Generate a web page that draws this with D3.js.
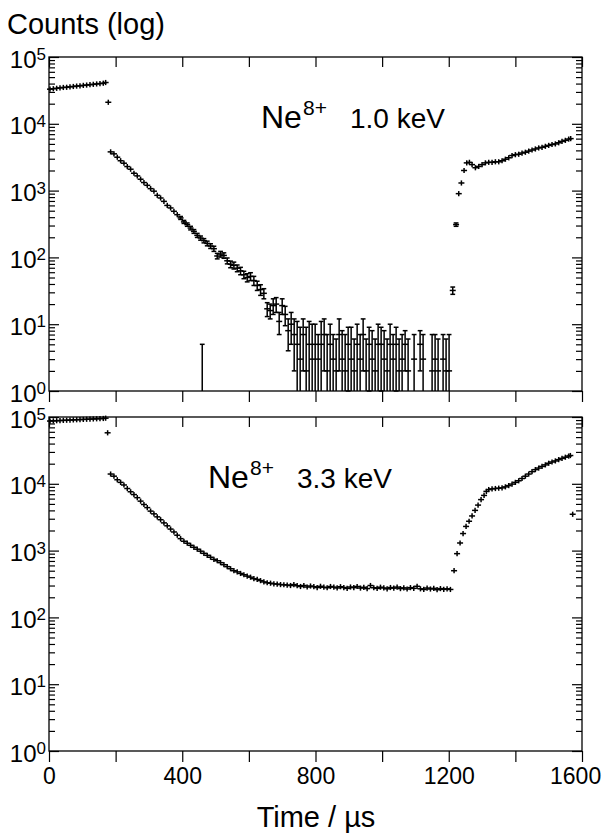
<!DOCTYPE html>
<html>
<head>
<meta charset="utf-8">
<script src="https://cdn.jsdelivr.net/npm/d3@7"></script>
<style>
  body { margin: 0; background: #fff; }
  svg text { font-family: "Liberation Sans", Arial, Helvetica, sans-serif; fill: #000; }
</style>
</head>
<body>
<svg id="chart" width="604" height="834"></svg>
<script>
// Ne8+ trap counts, two energies, log scale

const xTicks = [0, 200, 400, 600, 800, 1000, 1200, 1400, 1600];
const xLabels = [0, 400, 800, 1200, 1600];
const decades = [1, 10, 100, 1000, 10000, 100000];

// ---- upper panel, 1.0 keV ----  [time µs, counts, error]
const topPlateau = [[3,33000],[13,33500],[23,34000],[33,34500],[43,35000],[53,35200],[63,35800],[73,36200],[83,36700],[93,37000],[103,37600],[113,38000],[123,38500],[133,39000],[143,39500],[153,40000],[163,40500],[170,41500]];
const topDrop = [[178,21000]];
const topDecay = [[185,3800],[195,3550],[205,3160],[215,2800],[225,2570],[235,2290],[245,2090],[255,1820],[265,1660],[275,1480],[285,1320],[295,1200],[305,1070],[315,980],[325,850],[335,775],[345,690],[355,600],[365,550],[375,490],[385,436],[395,390,20],[405,340,18],[415,310,18],[425,275,17],[435,245,16],[445,214,15],[455,195,14],[465,178,13],[475,162,13],[485,148,12],[495,135,12],[505,105,10],[515,112,11],[525,107,10],[535,89,9],[545,79,9],[555,76,9],[565,69,8],[575,63,8],[585,55,7],[595,50,7],[605,52,7],[615,45,7],[625,38,6],[635,33,6],[645,29,5]];
const topNoise = [[655,17,4],[664,16,4],[673,19,5],[682,20,5],[691,11,4],[700,19,5],[709,14,4.5],[718,8,4],[727,10,5],[736,7,5],[745,5,6],[754,3,6],[763,7,5],[772,2,7],[781,5,6],[790,3,7],[799,5,5],[808,3,4],[817,5,6],[826,7,5],[835,2,5],[844,5,5],[853,3,4],[862,2,4],[871,7,5],[880,3,5],[889,2,5],[898,5,4],[907,3,6],[916,2,4],[925,5,5],[934,3,4],[943,7,5],[952,2,4],[961,5,4],[970,3,5],[979,2,4],[988,5,5],[997,5,4],[1006,3,5],[1015,2,4],[1024,5,5],[1033,3,4],[1042,5,4],[1051,2,4],[1060,3,4],[1069,5,3],[1078,2,4],[1096,3,4],[1114,5,3],[1123,3,4],[1150,2,5],[1159,3,4],[1168,2,4],[1183,3,4],[1192,2,4],[1201,2,5]];
const topEmpty = [[460,5]];
const topRise = [[1212,32,4],[1222,310,18],[1230,900],[1238,1300],[1246,2000],[1254,2600],[1262,2650],[1270,2450],[1280,2200],[1290,2300],[1300,2450],[1310,2600],[1320,2650],[1330,2650],[1340,2700],[1350,2700],[1360,2800],[1370,2950],[1380,3100],[1390,3350],[1400,3450],[1410,3500],[1420,3650],[1430,3750],[1440,3900],[1450,4050],[1460,4200],[1470,4350],[1480,4450],[1490,4600],[1500,4750],[1510,4900],[1520,5000],[1530,5200],[1540,5450],[1550,5650],[1560,5900],[1566,6000]];

// ---- lower panel, 3.3 keV ----
const botPlateau = [[3,87000],[13,87500],[23,88000],[33,88500],[43,89000],[53,89500],[63,90000],[73,90500],[83,91000],[93,91500],[103,92000],[113,92500],[123,93000],[133,93500],[143,94000],[153,94500],[163,95000],[170,96000]];
const botDrop = [[176,58000]];
const botDecay = [[185,14000],[195,13000],[205,11500],[215,10500],[225,9600],[235,8500],[245,7600],[255,6900],[265,6200],[275,5500],[285,4900],[295,4400],[305,3900],[315,3550],[325,3200],[335,2900],[345,2600],[355,2350],[365,2100],[375,1900],[385,1700],[395,1510],[405,1380],[415,1290],[425,1200],[435,1120],[445,1050],[455,980],[465,910],[475,850],[485,795],[495,740],[505,705],[515,660],[525,615],[535,575],[545,535],[555,500],[565,480],[575,455],[585,435],[595,415],[605,400],[615,380],[625,370],[635,355],[645,340],[655,330],[665,325],[675,318],[685,315],[695,310],[705,308]];
const botFlat = [[715,305],[725,300],[735,310],[745,298],[755,290],[765,300],[775,285],[785,295],[795,288],[805,280],[815,292],[825,283],[835,278],[845,290],[855,284],[865,276],[875,288],[885,280],[895,272],[905,285],[915,279],[925,290],[935,275],[945,282],[955,270],[965,300],[975,278],[985,272],[995,283],[1005,276],[1015,268],[1025,280],[1035,274],[1045,284],[1055,270],[1065,277],[1075,266],[1085,279],[1095,272],[1105,292],[1115,268],[1125,262],[1135,275],[1145,266],[1155,272],[1165,260],[1175,270],[1185,263],[1195,268],[1205,262]];
const botRise = [[1216,500],[1225,900],[1234,1300],[1243,1800],[1252,2300],[1261,2750],[1270,3300],[1279,4000],[1288,4800],[1297,5800],[1306,6700],[1313,7700],[1320,8200],[1330,8400],[1340,8500],[1350,8600],[1360,8700],[1370,9000],[1380,9400],[1390,9900],[1400,10500],[1410,11100],[1420,12000],[1430,13000],[1440,14000],[1450,15200],[1460,16300],[1470,17200],[1480,18200],[1490,19200],[1500,20300],[1510,21200],[1520,22000],[1530,23000],[1540,24000],[1550,25000],[1560,26000],[1565,26500]];
const botStray = [[1572,3500]];

const svg = d3.select("#chart");
const x = d3.scaleLinear().domain([0, 1600]).range([49, 582]);

function styleAxis(g) {
  g.select(".domain").remove();
  g.selectAll("line").attr("stroke", "#000").attr("stroke-width", 1.2);
}

function drawMarker(g, y, bottom, d) {
  const [t, v, e] = d;
  const cx = x(t);
  if (v > 0) {
    g.append("line").attr("x1", cx - 3).attr("x2", cx + 3)
      .attr("y1", y(v)).attr("y2", y(v));
  }
  if (e) {
    const lo = v - e;
    const yHi = y(v + e);
    const yLo = lo >= 1 ? y(lo) : bottom;
    g.append("line").attr("x1", cx).attr("x2", cx).attr("y1", yHi).attr("y2", yLo);
    g.append("line").attr("x1", cx - 2.4).attr("x2", cx + 2.4).attr("y1", yHi).attr("y2", yHi);
    if (lo >= 1) g.append("line").attr("x1", cx - 2.4).attr("x2", cx + 2.4).attr("y1", yLo).attr("y2", yLo);
  } else if (v > 0) {
    g.append("line").attr("x1", cx).attr("x2", cx).attr("y1", y(v) - 2.6).attr("y2", y(v) + 2.6);
  }
}

function drawPanel(top, bottom, series, empty, withLabels) {
  const y = d3.scaleLog().domain([1, 1e5]).range([bottom, top]);
  const minor = y.ticks().filter(d => !decades.includes(d));
  const g = svg.append("g");

  // left axis, ticks pointing inward
  g.append("g").attr("transform", "translate(49,0)")
    .call(d3.axisLeft(y).tickValues(minor).tickSize(-6).tickFormat(""))
    .call(styleAxis);
  const left = g.append("g").attr("transform", "translate(49,0)")
    .call(d3.axisLeft(y).tickValues(decades).tickSize(-10).tickPadding(3).tickFormat(""))
    .call(styleAxis);
  left.attr("font-size", null).attr("font-family", null);
  left.selectAll(".tick text")
    .attr("font-size", "24px").attr("dy", "0.42em")
    .each(function (d) {
      const t = d3.select(this);
      t.append("tspan").text("10");
      t.append("tspan").attr("font-size", "17px").attr("dy", "-0.45em")
        .text(Math.round(Math.log10(d)));
    });

  // right axis
  g.append("g").attr("transform", "translate(582,0)")
    .call(d3.axisRight(y).tickValues(minor).tickSize(-6).tickFormat(""))
    .call(styleAxis);
  g.append("g").attr("transform", "translate(582,0)")
    .call(d3.axisRight(y).tickValues(decades).tickSize(-10).tickFormat(""))
    .call(styleAxis);

  // x ticks, all pointing down
  g.append("g").attr("transform", `translate(0,${top})`)
    .call(d3.axisBottom(x).tickValues(xTicks).tickSize(10).tickFormat(""))
    .call(styleAxis);
  const bx = g.append("g").attr("transform", `translate(0,${bottom})`)
    .call(d3.axisBottom(x).tickValues(xTicks).tickSize(11).tickPadding(6)
      .tickFormat(d => withLabels && xLabels.includes(d) ? d : ""))
    .call(styleAxis);
  bx.attr("font-size", null).attr("font-family", null);
  bx.selectAll(".tick text").attr("font-size", "23px")
    .attr("dx", d => d === 1600 ? "-0.3em" : null);

  // frame
  g.append("rect").attr("x", x(0)).attr("y", top)
    .attr("width", x(1600) - x(0)).attr("height", bottom - top)
    .attr("fill", "none").attr("stroke", "#000").attr("stroke-width", 1.3);

  // data markers
  const m = g.append("g").attr("stroke", "#000").attr("stroke-width", 1.5);
  series.forEach(s => s.forEach(d => drawMarker(m, y, bottom, d)));
  empty.forEach(([t, e]) => drawMarker(m, y, bottom, [t, 0, e]));
  return y;
}

drawPanel(57, 391, [topPlateau, topDrop, topDecay, topNoise, topRise], topEmpty, false);
drawPanel(417, 751, [botPlateau, botDrop, botDecay, botFlat, botRise, botStray], [], true);

// titles and annotations
svg.append("text").attr("x", 7).attr("y", 34).attr("font-size", "29px").text("Counts (log)");
svg.append("text").attr("x", 316).attr("y", 827).attr("font-size", "29px")
  .attr("text-anchor", "middle").text("Time / µs");

function label(xp, yb, keV) {
  svg.append("text").attr("x", xp).attr("y", yb).attr("font-size", "32px").text("Ne");
  svg.append("text").attr("x", xp + 42).attr("y", yb - 13).attr("font-size", "21px").text("8+");
  svg.append("text").attr("x", xp + 89).attr("y", yb).attr("font-size", "28px").text(keV);
}
label(261, 128, "1.0 keV");
label(208, 488, "3.3 keV");
</script>
</body>
</html>
